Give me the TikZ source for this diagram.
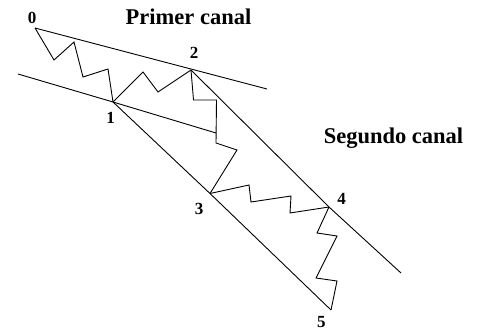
\documentclass[tikz,border=0pt]{standalone}
\usepackage{fontspec}
\setmainfont{Liberation Serif}
\usetikzlibrary{positioning,calc}
\tikzset{
  wave/.style ={line width=0.9pt,black,line join=miter},
  chan/.style ={line width=0.9pt,black},
  num/.style  ={font=\fontsize{17}{17}\selectfont\bfseries,inner sep=0pt,anchor=base},
  ttl/.style  ={font=\fontsize{22.5}{22.5}\selectfont\bfseries,inner sep=0pt,anchor=base},
}

\begin{document}
\begin{tikzpicture}[x=1pt,y=-1pt]
\useasboundingbox (0,0) rectangle (478,334);
% turning points
\coordinate (P0) at (35,28);
\coordinate (P1) at (113,102);
\coordinate (P2) at (191,70);
\coordinate (P3) at (210,193.5);
\coordinate (P4) at (329,207);
\coordinate (P5) at (331,310);
% ends of the channel lines
\coordinate (T1) at (267,89);
\coordinate (B1a) at (18,74);
\coordinate (B1b) at (216,133);
\coordinate (T2) at (401,273);
% channels
\draw[chan] (P0) -- (T1);
\draw[chan] (B1a) -- (P1) -- (B1b);
\draw[chan] (P2) -- (P4) -- (T2);
\draw[chan] (P1) -- (P3) -- (P5);
% waves
\draw[wave] (P0) -- (54,60) -- (74,42) -- (83,77) -- (108,69) -- (P1);
\draw[wave] (P1) -- (143,72) -- (158,92) -- (P2);
\draw[wave] (P2) -- (193.5,100) -- (216.5,100) -- (216,143) -- (237,150) -- (P3);
\draw[wave] (P3) -- (249,185) -- (251,202) -- (291,196) -- (290,213) -- (P4);
\draw[wave] (P4) -- (317,233) -- (337,236) -- (316,278) -- (337,281) -- (P5);
% labels
\node[num] (n0) at (32,24) {0};
\node[num] (n1) at (110.5,123.3) {1};
\node[num] (n2) at (194,58.3) {2};
\node[num] (n3) at (199,214.3) {3};
\node[num] (n4) at (341.5,204) {4};
\node[num] (n5) at (321.3,327) {5};
\node[ttl] (c1) at (188.5,25) {Primer canal};
\node[ttl] (c2) at (393.5,143.3) {Segundo canal};
\end{tikzpicture}
\end{document}
